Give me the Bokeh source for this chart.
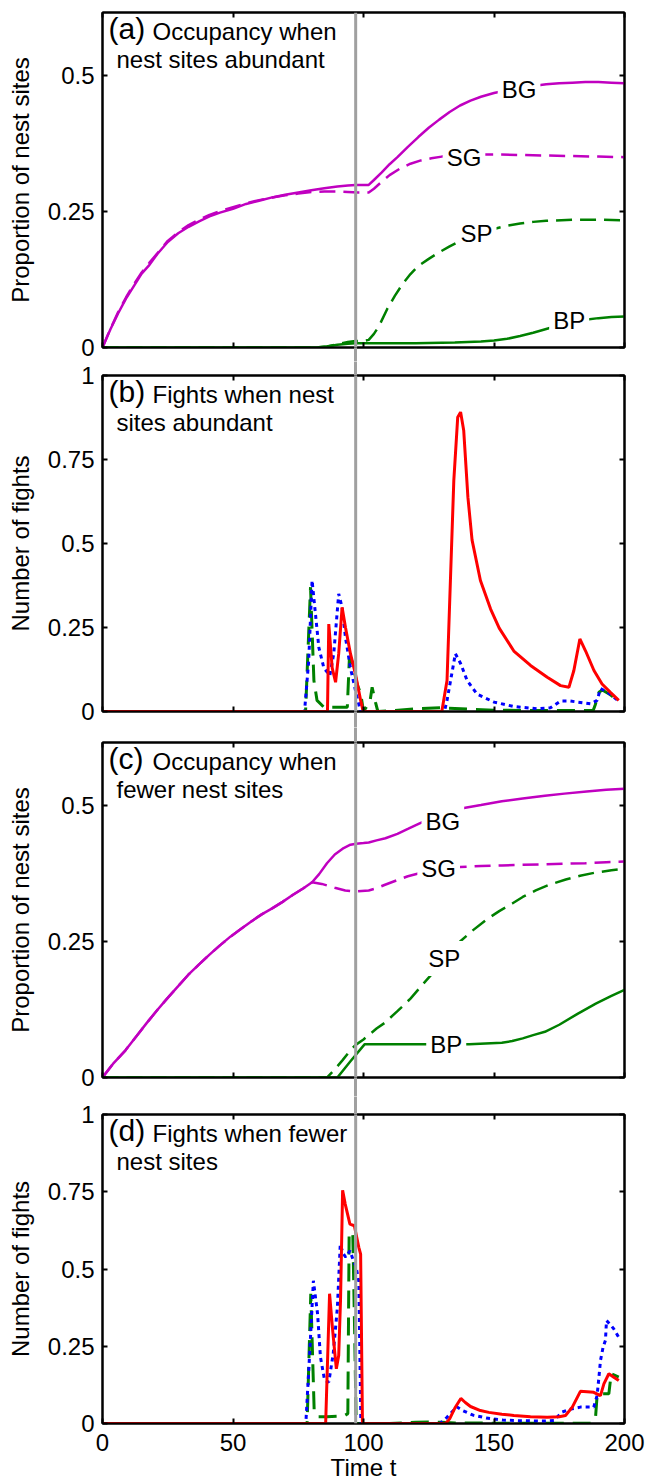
from bokeh.plotting import figure
from bokeh.models import Range1d, LinearAxis, FixedTicker, Label, Span
from bokeh.layouts import column
from bokeh.embed import file_html
from bokeh.resources import INLINE

FONT = "Liberation Sans"
MAG = "#c000c0"
GRN = "#008000"
RED = "#ff0000"
BLU = "#0000ff"
GREY = "#a0a0a0"

# ---------------- axes data ----------------
x_ticks = [0, 50, 100, 150, 200]
x_tick_labels = ["0", "50", "100", "150", "200"]
occ_ticks = [0, 0.25, 0.5]
occ_tick_labels = ["0", "0.25", "0.5"]
occ_max = 0.616
fight_ticks = [0, 0.25, 0.5, 0.75, 1]
fight_tick_labels = ["0", "0.25", "0.5", "0.75", "1"]
fight_max = 1.0
switch_time = 97

# ---------------- panel (a): occupancy, abundant ----------------
a_bg_t = [0, 3, 6, 9, 12, 15, 18, 21, 25, 29, 33, 37, 41, 45, 50, 55, 60, 65, 70, 75, 80, 85, 90, 94,
          97, 100, 102, 104, 107, 110, 113, 117, 121, 125, 129, 133, 137, 141, 145,
          150, 155, 160, 165, 170, 175, 180, 185, 190, 195, 200]
a_bg_y = [0, 0.033, 0.063, 0.09, 0.113, 0.136, 0.152, 0.172, 0.194, 0.21, 0.222, 0.232, 0.241, 0.248,
          0.255, 0.264, 0.27, 0.276, 0.281, 0.285, 0.289, 0.293, 0.296, 0.298,
          0.299, 0.299, 0.299, 0.308, 0.322, 0.337, 0.35, 0.369, 0.387, 0.404, 0.419, 0.433, 0.445, 0.454, 0.461,
          0.468, 0.473, 0.477, 0.481, 0.484, 0.486, 0.487, 0.488, 0.488, 0.487, 0.486]
a_sg_t = [0, 3, 6, 9, 12, 15, 18, 21, 25, 29, 33, 37, 41, 45, 50, 55, 60, 65, 70, 75, 80, 85, 90, 94,
          98, 102, 104, 107, 110, 114, 118, 122, 126, 130, 135, 140, 145, 150, 160, 170, 180, 190, 200]
a_sg_y = [0, 0.034, 0.065, 0.092, 0.116, 0.138, 0.156, 0.173, 0.196, 0.212, 0.225, 0.235, 0.244, 0.251,
          0.258, 0.265, 0.271, 0.276, 0.28, 0.283, 0.286, 0.287, 0.287, 0.286,
          0.285, 0.285, 0.292, 0.305, 0.317, 0.329, 0.338, 0.344, 0.348, 0.351, 0.353, 0.354, 0.355, 0.355,
          0.354, 0.353, 0.352, 0.351, 0.35]
a_sp_t = [0, 82, 86, 90, 94, 97, 100, 102, 104, 106, 109, 112, 115, 118, 121, 125, 129, 133, 137, 141,
          145, 150, 155, 160, 165, 170, 180, 190, 200]
a_sp_y = [0, 0, 0.002, 0.006, 0.01, 0.012, 0.012, 0.014, 0.025, 0.04, 0.07, 0.095, 0.117, 0.135, 0.15,
          0.163, 0.175, 0.186, 0.196, 0.204, 0.211, 0.218, 0.224, 0.228, 0.231, 0.233, 0.235, 0.235, 0.234]
a_bp_t = [0, 82, 86, 90, 94, 97, 100, 120, 135, 145, 150, 155, 160, 165, 170, 175, 180, 185, 190, 195, 200]
a_bp_y = [0, 0, 0.002, 0.005, 0.007, 0.008, 0.008, 0.008, 0.009, 0.011, 0.013, 0.016, 0.021, 0.027,
          0.034, 0.041, 0.047, 0.051, 0.054, 0.056, 0.057]
a_label_names = ["BG", "SG", "SP", "BP"]
a_label_t = [159.6, 138.5, 143.3, 178.8]
a_label_y = [0.475, 0.35, 0.21, 0.05]

# ---------------- panel (b): fights, abundant ----------------
b_red_t = [0, 86.2, 86.7, 88, 89.3, 90.5, 91.8, 93.1, 95, 96.9, 98.9, 99.9, 130, 132, 133.3, 134.6,
           136.1, 137.2, 138.4, 140, 141.6, 144.8, 148.7, 152, 157.6, 164, 170.4, 175.5, 178.7, 180.6,
           182.9, 185.1, 188.3, 191.4, 194.6, 197.8]
b_red_y = [0, 0, 0.26, 0.13, 0.087, 0.172, 0.31, 0.25, 0.172, 0.112, 0.033, 0, 0, 0.092, 0.39, 0.687,
           0.876, 0.891, 0.836, 0.638, 0.51, 0.39, 0.305, 0.248, 0.18, 0.137, 0.102, 0.077, 0.072, 0.122,
           0.216, 0.18, 0.122, 0.082, 0.057, 0.033]
b_blue_t = [0, 77.4, 79, 80.3, 81.6, 82.9, 84.8, 87.1, 88.6, 90.5, 91.8, 93.1, 95, 97, 98.9, 131, 132,
            135.2, 137.2, 139.7, 143.5, 150, 157.6, 166.5, 171.6, 175.5, 179.3, 187, 189.5, 190.8,
            193.4, 197.4]
b_blue_y = [0, 0, 0.15, 0.39, 0.29, 0.19, 0.13, 0.107, 0.172, 0.35, 0.31, 0.22, 0.13, 0.06, 0, 0, 0.033,
            0.172, 0.143, 0.092, 0.052, 0.028, 0.015, 0.008, 0.011, 0.031, 0.031, 0.023, 0.033, 0.068,
            0.058, 0.033]
b_green_t = [0, 77.8, 79.7, 81, 82.2, 84.8, 93.8, 94.6, 95.6, 97.6, 98.9, 100, 102.5, 103.3, 104.6,
             105.5, 112, 120, 130, 140, 150, 160, 170, 180, 188, 188.8, 190.2, 191.5, 194.6, 197.4]
b_green_y = [0, 0, 0.37, 0.092, 0.033, 0.013, 0.013, 0.16, 0.15, 0.08, 0.054, 0, 0.03, 0.072, 0.027,
             0, 0.003, 0.008, 0.011, 0.007, 0.004, 0.003, 0.003, 0.003, 0.003, 0.02, 0.057, 0.064,
             0.05, 0.033]

# ---------------- panel (c): occupancy, fewer ----------------
c_bg_t = [0, 4, 8.8, 13, 16.9, 21, 24.9, 29, 32.9, 37, 41, 45, 49, 53, 57, 61, 65, 69, 73, 77,
          80.3, 83, 86, 89, 92.4, 95, 97.2, 100, 102, 105, 108.4, 113, 117, 121.3, 126, 130, 134, 139,
          145, 153, 161, 169.5, 177, 185.5, 193, 200]
c_bg_y = [0, 0.025, 0.05, 0.076, 0.1, 0.124, 0.146, 0.168, 0.189, 0.208, 0.226, 0.243, 0.259, 0.273,
          0.287, 0.3, 0.311, 0.323, 0.336, 0.348, 0.359, 0.374, 0.394, 0.41, 0.422, 0.428, 0.43, 0.431,
          0.432, 0.436, 0.44, 0.448, 0.457, 0.467, 0.477, 0.485, 0.491, 0.496, 0.501, 0.508, 0.513,
          0.518, 0.522, 0.526, 0.529, 0.531]
c_sg_t = [0, 4, 8.8, 13, 16.9, 21, 24.9, 29, 32.9, 37, 41, 45, 49, 53, 57, 61, 65, 69, 73, 77,
          80.3, 84, 89, 93, 97, 102, 105, 108, 113, 117, 121, 126, 131, 137, 145, 153, 161, 169.5, 177,
          185, 193, 200]
c_sg_y = [0, 0.025, 0.05, 0.076, 0.1, 0.124, 0.146, 0.168, 0.189, 0.208, 0.226, 0.243, 0.259, 0.273,
          0.287, 0.3, 0.311, 0.323, 0.336, 0.348, 0.359, 0.356, 0.349, 0.344, 0.342, 0.344, 0.348, 0.354,
          0.363, 0.37, 0.375, 0.38, 0.384, 0.387, 0.389, 0.39, 0.391, 0.392, 0.393, 0.394, 0.396, 0.397]
c_sp_t = [0, 86, 89, 92, 95, 97, 100, 102, 105, 108, 113, 118, 123, 128, 133, 137, 142, 147, 152, 157,
          161, 166, 171, 177.5, 183, 189, 195, 200]
c_sp_y = [0, 0, 0.015, 0.032, 0.05, 0.06, 0.07, 0.078, 0.09, 0.1, 0.122, 0.145, 0.173, 0.2, 0.228,
          0.25, 0.271, 0.29, 0.306, 0.32, 0.332, 0.344, 0.354, 0.364, 0.371, 0.377, 0.381, 0.384]
c_bp_t = [0, 90, 95, 100.4, 110, 121, 140.5, 153, 157, 161, 165, 169.5, 175, 182, 189, 195, 200]
c_bp_y = [0, 0, 0.03, 0.061, 0.061, 0.061, 0.061, 0.064, 0.067, 0.072, 0.078, 0.084, 0.097, 0.117,
          0.136, 0.15, 0.161]
c_label_names = ["BG", "SG", "SP", "BP"]
c_label_t = [130.4, 128.8, 130.9, 131.7]
c_label_y = [0.471, 0.385, 0.219, 0.061]

# ---------------- panel (d): fights, fewer ----------------
d_red_t = [0, 85.5, 87, 88.2, 89.6, 90.5, 91.2, 92, 93, 94.8, 96.5, 98.2, 98.9, 99.6, 131.5, 133, 135,
           137.3, 139, 141, 144.8, 148, 153, 157.6, 164, 170.4, 175, 177.4, 180, 183.1, 188.2, 190.8,
           192.1, 194, 195.9, 197.8]
d_red_y = [0, 0, 0.42, 0.3, 0.177, 0.22, 0.4, 0.755, 0.71, 0.645, 0.64, 0.57, 0.548, 0, 0, 0.015, 0.05,
           0.081, 0.068, 0.055, 0.042, 0.036, 0.03, 0.026, 0.022, 0.02, 0.022, 0.026, 0.053, 0.104,
           0.101, 0.09, 0.128, 0.161, 0.15, 0.139]
d_blue_t = [0, 77.9, 79.5, 80.8, 82.4, 83.5, 85.1, 86.7, 88.4, 90, 91.1, 92.2, 93.2, 94.8, 96, 97.2,
            98.2, 99, 129.3, 132, 135.7, 138, 142, 147, 153.4, 160, 169.5, 173, 176.1, 179.5, 183.1,
            188.2, 189.5, 190.2, 190.8, 191.8, 192.7, 193.1, 194.6, 195.9, 197.8]
d_blue_y = [0, 0, 0.247, 0.462, 0.355, 0.215, 0.14, 0.134, 0.226, 0.376, 0.58, 0.55, 0.538, 0.559,
            0.53, 0.505, 0.46, 0, 0, 0.02, 0.054, 0.042, 0.027, 0.018, 0.011, 0.009, 0.008, 0.01,
            0.037, 0.047, 0.053, 0.053, 0.09, 0.15, 0.204, 0.247, 0.269, 0.333, 0.32, 0.306, 0.279]
d_green_t = [0, 78.4, 79.8, 81.1, 82.7, 86, 92.4, 94, 94.5, 95.9, 96.6, 97.2, 110, 120, 125, 130, 135,
             150, 175, 187, 188.9, 189.5, 190.2, 194, 194.9, 197.8]
d_green_y = [0, 0, 0.42, 0.043, 0.022, 0.022, 0.024, 0.032, 0.618, 0.613, 0.3, 0, 0, 0.004, 0.005,
             0.004, 0.002, 0.001, 0.001, 0.001, 0.02, 0.09, 0.096, 0.096, 0.161, 0.15]

# ---------------- texts ----------------
tags = ["(a)", "(b)", "(c)", "(d)"]
title_line1 = ["Occupancy when", "Fights when nest", "Occupancy when", "Fights when fewer"]
title_line2 = ["nest sites abundant", "sites abundant", "fewer nest sites", "nest sites"]
y_labels = ["Proportion of nest sites", "Number of fights", "Proportion of nest sites", "Number of fights"]
x_label = "Time t"

FIG_W = 657


def hide_labels(ax):
    ax.major_label_text_color = None
    ax.major_label_text_alpha = 0
    ax.major_label_text_font_size = "0px"
    ax.major_label_standoff = 0


def make_panel(height, b_top, b_bottom, ymax, yticks, ylabs, ylabel, show_x_labels):
    p = figure(width=FIG_W, height=height, x_range=Range1d(0, 200), y_range=Range1d(0, ymax),
               x_axis_type=None, y_axis_type=None, output_backend="svg", toolbar_location=None,
               min_border_left=102, min_border_right=33, min_border_top=b_top,
               min_border_bottom=b_bottom)
    p.outline_line_color = "black"
    p.outline_line_width = 2
    p.background_fill_color = "white"
    p.border_fill_color = "white"
    for place in ("below", "above", "left", "right"):
        horizontal = place in ("below", "above")
        ticks = x_ticks if horizontal else yticks
        labs = x_tick_labels if horizontal else ylabs
        ax = LinearAxis(ticker=FixedTicker(ticks=ticks, minor_ticks=[]))
        ax.major_label_overrides = dict(zip(ticks, labs))
        ax.axis_line_color = "black"
        ax.axis_line_width = 2
        ax.major_tick_in = 5
        ax.major_tick_out = 0
        ax.major_tick_line_width = 2
        ax.minor_tick_line_color = None
        ax.major_label_text_font = FONT
        ax.major_label_text_color = "black"
        show = place == "left" or (place == "below" and show_x_labels)
        if show:
            ax.major_label_text_font_size = "24px"
            ax.major_label_standoff = 8 if place == "left" else 10
        else:
            hide_labels(ax)
        if place == "left":
            ax.axis_label = ylabel
            ax.axis_label_text_font = FONT
            ax.axis_label_text_font_size = "24px"
            ax.axis_label_text_font_style = "normal"
            ax.axis_label_text_color = "black"
            ax.axis_label_standoff = 11
        if place == "below" and show_x_labels:
            ax.axis_label = x_label
            ax.axis_label_text_font = FONT
            ax.axis_label_text_font_size = "24px"
            ax.axis_label_text_font_style = "normal"
            ax.axis_label_text_color = "black"
            ax.axis_label_standoff = 0
        p.add_layout(ax, place)
    # switch-time marker inside the frame
    p.add_layout(Span(location=switch_time, dimension="height", line_color=GREY, line_width=3))
    return p


def add_switch_tick(p, place, length):
    # continues the switch-time marker across the figure border (drawn as an outward tick)
    ax = LinearAxis(ticker=FixedTicker(ticks=[switch_time], minor_ticks=[]))
    ax.axis_line_color = None
    ax.major_tick_in = 0
    ax.major_tick_out = length
    ax.major_tick_line_color = GREY
    ax.major_tick_line_width = 3
    ax.minor_tick_line_color = None
    hide_labels(ax)
    p.add_layout(ax, place)


def add_title(p, i, frame_h):
    p.add_layout(Label(x=6, y=frame_h - 32, x_units="screen", y_units="screen", text=tags[i],
                       text_font=FONT, text_font_size="30px", text_color="black"))
    p.add_layout(Label(x=50, y=frame_h - 32, x_units="screen", y_units="screen", text=title_line1[i],
                       text_font=FONT, text_font_size="24px", text_color="black"))
    p.add_layout(Label(x=14, y=frame_h - 60, x_units="screen", y_units="screen", text=title_line2[i],
                       text_font=FONT, text_font_size="24px", text_color="black"))


def add_curve_labels(p, names, ts, ys):
    for n, t, y in zip(names, ts, ys):
        p.add_layout(Label(x=t, y=y, text=n, text_font=FONT, text_font_size="24px",
                           text_color="black", text_align="center", text_baseline="middle",
                           background_fill_color="white", padding=4))


# frame heights: a 335, b 336, c 335, d 309
pa = make_panel(361, 12, 14, occ_max, occ_ticks, occ_tick_labels, y_labels[0], False)
pa.line(a_bg_t, a_bg_y, line_color=MAG, line_width=2.5)
pa.line(a_sg_t, a_sg_y, line_color=MAG, line_width=2.5, line_dash="16 8")
pa.line(a_sp_t, a_sp_y, line_color=GRN, line_width=2.5, line_dash="16 8")
pa.line(a_bp_t, a_bp_y, line_color=GRN, line_width=2.5)
add_curve_labels(pa, a_label_names, a_label_t, a_label_y)
add_title(pa, 0, 335)
add_switch_tick(pa, "below", 14)

pb = make_panel(366, 14, 16, fight_max, fight_ticks, fight_tick_labels, y_labels[1], False)
pb.line(b_green_t, b_green_y, line_color=GRN, line_width=3, line_dash="18 9")
pb.line(b_blue_t, b_blue_y, line_color=BLU, line_width=3, line_dash="4 4")
pb.line(b_red_t, b_red_y, line_color=RED, line_width=3)
add_title(pb, 1, 336)
add_switch_tick(pb, "above", 14)
add_switch_tick(pb, "below", 16)

pc = make_panel(369, 15, 19, occ_max, occ_ticks, occ_tick_labels, y_labels[2], False)
pc.line(c_bg_t, c_bg_y, line_color=MAG, line_width=2.5)
pc.line(c_sg_t, c_sg_y, line_color=MAG, line_width=2.5, line_dash="16 8")
pc.line(c_sp_t, c_sp_y, line_color=GRN, line_width=2.5, line_dash="16 8")
pc.line(c_bp_t, c_bp_y, line_color=GRN, line_width=2.5)
add_curve_labels(pc, c_label_names, c_label_t, c_label_y)
add_title(pc, 2, 335)
add_switch_tick(pc, "above", 15)
add_switch_tick(pc, "below", 19)

pd = make_panel(387, 18, 60, fight_max, fight_ticks, fight_tick_labels, y_labels[3], True)
pd.line(d_green_t, d_green_y, line_color=GRN, line_width=3, line_dash="18 9")
pd.line(d_blue_t, d_blue_y, line_color=BLU, line_width=3, line_dash="4 4")
pd.line(d_red_t, d_red_y, line_color=RED, line_width=3)
add_title(pd, 3, 309)
add_switch_tick(pd, "above", 18)

layout = column(pa, pb, pc, pd, spacing=0)
open("out.html", "w").write(file_html(layout, INLINE))
